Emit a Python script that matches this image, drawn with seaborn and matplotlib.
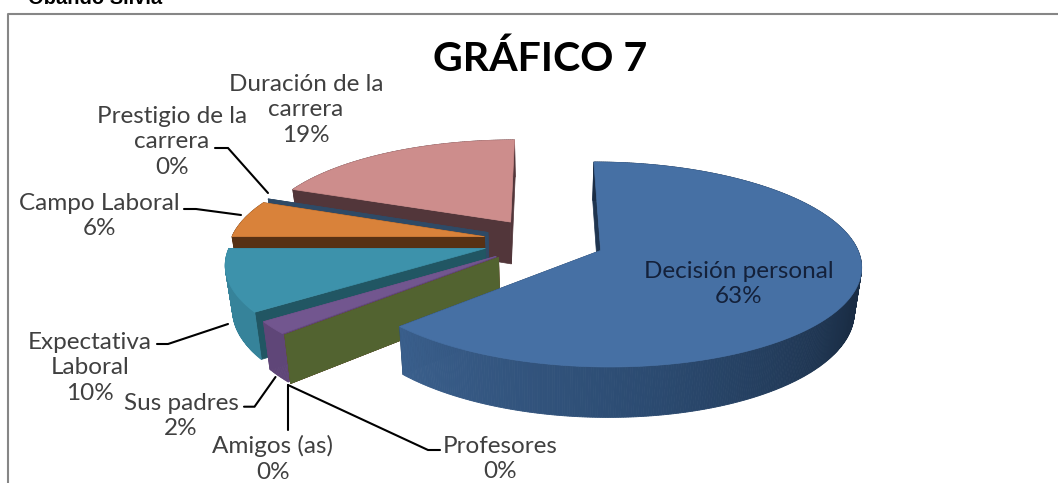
import numpy as np
import matplotlib
matplotlib.use('Agg')
import matplotlib.pyplot as plt
from matplotlib.patches import Polygon
import seaborn as sns

# datos (porcentajes, sentido horario desde las 12)
categorias = ['Decisión personal', 'Profesores', 'Amigos (as)', 'Sus padres',
              'Expectativa Laboral', 'Campo Laboral', 'Prestigio de la carrera',
              'Duración de la carrera']
etiquetas = ['Decisión personal', 'Profesores', 'Amigos (as)', 'Sus padres',
             'Expectativa\nLaboral', 'Campo Laboral', 'Prestigio de la\ncarrera',
             'Duración de la\ncarrera']
valores = [63, 0, 0, 2, 10, 6, 0, 19]

color_cara = ['#4670a4', '#7a3230', '#526330', '#72568f', '#3d92ab', '#d9823a', '#2f4a66', '#cd8d8c']
color_radial = ['#1f3550', '#7a3230', '#526330', '#5f4678', '#215663', '#573114', '#2f4a66', '#52363a']
color_borde = [['#1a2d45', '#1a2d45', '#1a2d45', '#2b4a70', '#3a5f8c'], ['#7a3230'] * 2, ['#526330'] * 2,
               ['#5f4678'] * 2, ['#36839a', '#36839a'], ['#573114'] * 2, ['#2f4a66'] * 2, ['#52363a'] * 2]
orden = [7, 6, 5, 4, 3, 1, 2, 0]

pos_texto = [(739, 284), (500, 459), (273, 459), (181, 416), (90, 368), (99, 216), (172, 142), (306, 110)]
color_texto = ['#14213a'] + ['#404040'] * 7
guias = [None,
         [(288, 385), (428, 450), (440, 450)],
         [(288, 385), (288, 430)],
         [(244, 406.7), (254.5, 406.7), (275.5, 377)],
         [(157, 344), (168, 344), (228, 324)],
         [(184, 209), (196, 209), (241, 215)],
         [(215, 148), (228, 148), (268, 193)],
         None]

# perspectiva del pastel
CX, CY = 544, 241
A, B, K = 254, 98, 0.135
EXPLOTA = 0.24
ALTO = 43
ENCOGE = 0.977


def proyecta(X, Y, abajo=False):
    w = 1 + K * Y
    x = A * X / w
    y = -B * Y / w
    if abajo:
        return CX + x * ENCOGE, CY + y + ALTO / w
    return CX + x, CY + y


def cuña(ax, ini, fin, i):
    medio = np.radians((ini + fin) / 2)
    x0 = EXPLOTA * np.sin(medio)
    y0 = EXPLOTA * np.cos(medio)
    ang = np.radians(np.linspace(ini, fin, max(2, int(fin - ini) * 2)))
    Xs = x0 + np.sin(ang)
    Ys = y0 + np.cos(ang)

    # caras radiales
    for a in [ang[-1], ang[0]]:
        X1, Y1 = x0 + np.sin(a), y0 + np.cos(a)
        pts = [proyecta(x0, y0), proyecta(X1, Y1), proyecta(X1, Y1, True), proyecta(x0, y0, True)]
        ax.add_patch(Polygon(pts, fc=color_radial[i], ec=color_radial[i], lw=0.5))
    if fin == ini:
        return

    # borde exterior con degradado
    cols = sns.blend_palette(color_borde[i], n_colors=len(ang))
    for j in range(len(ang) - 1):
        pts = [proyecta(Xs[j], Ys[j]), proyecta(Xs[j + 1], Ys[j + 1]),
               proyecta(Xs[j + 1], Ys[j + 1], True), proyecta(Xs[j], Ys[j], True)]
        ax.add_patch(Polygon(pts, fc=cols[j], ec=cols[j], lw=0.6))

    # cara superior
    pts = [proyecta(x0, y0)] + [proyecta(a, b) for a, b in zip(Xs, Ys)]
    ax.add_patch(Polygon(pts, fc=color_cara[i], ec=color_cara[i], lw=0.5))


sns.set_theme(style='white')
plt.rcParams['font.family'] = ['Lato', 'DejaVu Sans']

fig = plt.figure(figsize=(10.58, 4.83), dpi=100)
ax = fig.add_axes([0, 0, 1, 1])
ax.set_xlim(0, 1058)
ax.set_ylim(483, 0)
ax.axis('off')

# marco del grafico (solo arriba e izquierda, el resto queda recortado)
ax.plot([8, 8, 1058], [483, 14, 14], color='#868686', lw=1.5)

ax.text(28, -1, 'Obando Silvia', family='Liberation Sans', fontweight='bold', fontsize=14.5,
        color='black', ha='left', va='center', clip_on=True)
ax.text(540, 59, 'GRÁFICO 7', fontsize=29.6, fontweight='bold', color='black', ha='center', va='center')

acum = np.cumsum([0] + valores) * 3.6
for i in orden:
    cuña(ax, acum[i], acum[i + 1], i)

for i in range(len(categorias)):
    if guias[i] is not None:
        xs, ys = zip(*guias[i])
        ax.plot(xs, ys, color='black', lw=1.5, solid_joinstyle='miter')
    ax.text(pos_texto[i][0], pos_texto[i][1], f'{etiquetas[i]}\n{valores[i]}%', fontsize=17.5,
            color=color_texto[i], ha='center', va='center', linespacing=1.28)

fig.savefig('out.png', dpi=100)
